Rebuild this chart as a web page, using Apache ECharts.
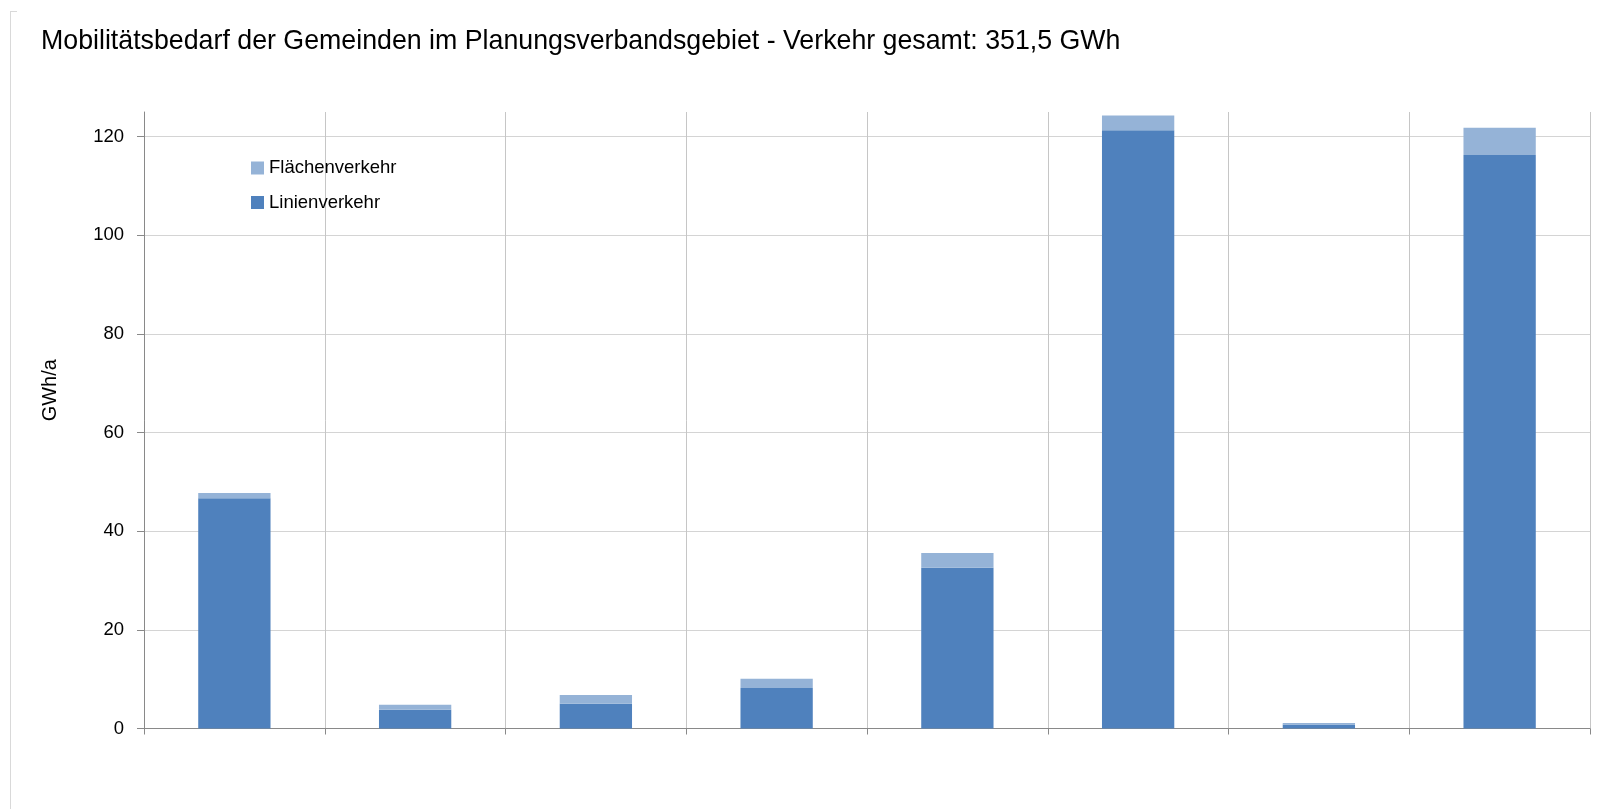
<!DOCTYPE html>
<html>
<head>
<meta charset="utf-8">
<script src="https://cdn.jsdelivr.net/npm/echarts@6/dist/echarts.min.js"></script>
<style>
html,body{margin:0;padding:0;background:#fff;}
#chart{width:1610px;height:809px;}
</style>
</head>
<body>
<div id="chart"></div>
<script>
// Data
const categories = ['Gemeinde 1','Gemeinde 2','Gemeinde 3','Gemeinde 4','Gemeinde 5','Gemeinde 6','Gemeinde 7','Gemeinde 8'];
const linienverkehr = [46.7, 3.8, 5.0, 8.2, 32.6, 121.3, 0.8, 116.3];
const flaechenverkehr = [1.05, 1.0, 1.8, 1.9, 3.0, 3.0, 0.3, 5.5];
const yTicks = [0, 20, 40, 60, 80, 100, 120];
const titleText = 'Mobilitätsbedarf der Gemeinden im Planungsverbandsgebiet - Verkehr gesamt: 351,5 GWh';
const yName = 'GWh/a';

const FONT = '"Liberation Sans Narrow", "Liberation Sans", Arial, sans-serif';
const chart = echarts.init(document.getElementById('chart'), null, {renderer: 'canvas'});
chart.setOption({
  animation: false,
  backgroundColor: '#ffffff',
  title: {
    text: titleText,
    left: 41, top: 28,
    padding: 0,
    textStyle: {fontFamily: FONT, fontSize: 26.75, fontWeight: 'normal', color: '#000000', lineHeight: 27}
  },
  legend: {
    orient: 'vertical',
    left: 251, top: 158.5,
    padding: 0,
    itemWidth: 13, itemHeight: 13,
    itemGap: 15.5,
    icon: 'rect',
    data: ['Flächenverkehr', 'Linienverkehr'],
    textStyle: {fontFamily: FONT, fontSize: 18.5, color: '#000000', lineHeight: 18.5}
  },
  grid: {left: 144, right: 20, top: 112, bottom: 80.5, containLabel: false},
  xAxis: {
    type: 'category',
    data: categories,
    boundaryGap: true,
    axisLine: {show: true, lineStyle: {color: '#898989', width: 1}},
    axisTick: {show: true, length: 6, inside: false, lineStyle: {color: '#898989'}},
    axisLabel: {show: false},
    splitLine: {show: true, lineStyle: {color: '#c6c6c6', width: 1}}
  },
  yAxis: {
    type: 'value',
    min: 0, max: 125, interval: 20,
    name: yName,
    nameLocation: 'middle',
    nameGap: 84,
    nameRotate: 90,
    nameTextStyle: {fontFamily: FONT, fontSize: 20, color: '#000000', padding: [0, 0, 0, 60]},
    axisLine: {show: true, lineStyle: {color: '#898989', width: 1}},
    axisTick: {show: true, length: 7, inside: false, lineStyle: {color: '#898989'}, customValues: yTicks},
    axisLabel: {margin: 20, fontFamily: FONT, fontSize: 18.5, color: '#000000', customValues: yTicks},
    splitLine: {show: true, lineStyle: {color: '#d4d4d4', width: 1}}
  },
  series: [
    {
      name: 'Linienverkehr', type: 'bar', stack: 'total',
      data: linienverkehr, barWidth: '40%',
      itemStyle: {color: '#4f81bd'}
    },
    {
      name: 'Flächenverkehr', type: 'bar', stack: 'total',
      data: flaechenverkehr, barWidth: '40%',
      itemStyle: {color: '#95b3d7'}
    }
  ],
  graphic: [
    {type: 'line', shape: {x1: 10.5, y1: 11, x2: 10.5, y2: 809}, style: {stroke: '#d9d9d9', lineWidth: 1}, silent: true},
    {type: 'line', shape: {x1: 10, y1: 11.5, x2: 17, y2: 11.5}, style: {stroke: '#d9d9d9', lineWidth: 1}, silent: true}
  ]
});
</script>
</body>
</html>
